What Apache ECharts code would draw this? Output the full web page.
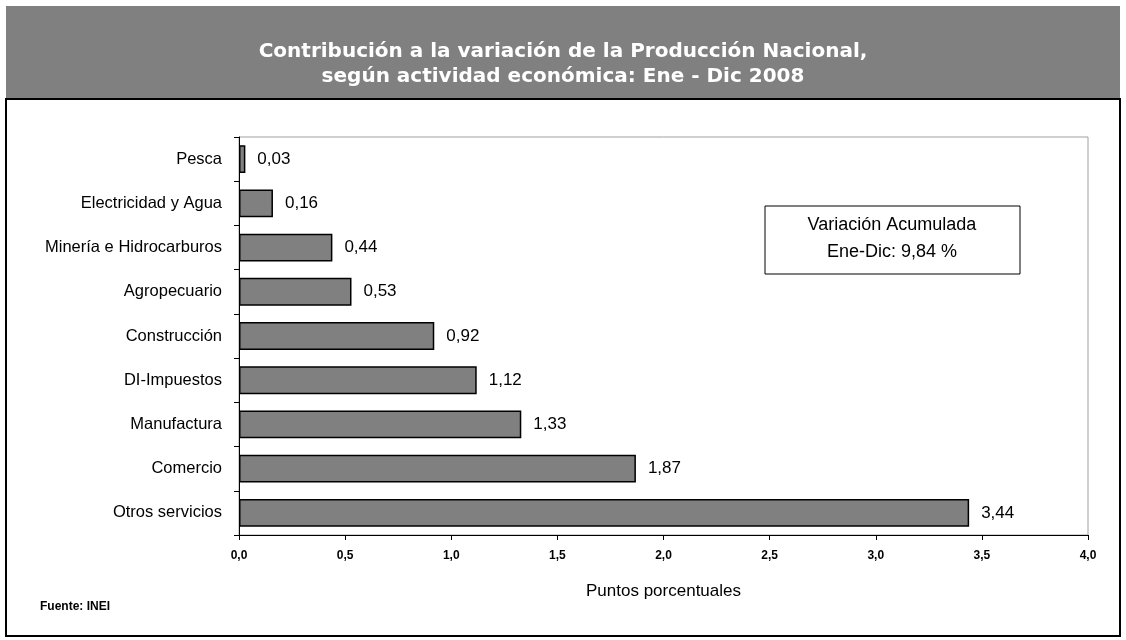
<!DOCTYPE html>
<html><head><meta charset="utf-8">
<script src="https://cdn.jsdelivr.net/npm/echarts@6/dist/echarts.min.js"></script>
<style>html,body{margin:0;padding:0;background:#fff}#c{width:1126px;height:640px}</style>
</head><body><div id="c"></div>
<script>
const categories = ["Pesca","Electricidad y Agua","Minería e Hidrocarburos","Agropecuario","Construcción","DI-Impuestos","Manufactura","Comercio","Otros servicios"];
const values = [0.03,0.16,0.44,0.53,0.92,1.12,1.33,1.87,3.44];
const titleLines = ["Contribución a la variación de la Producción Nacional,","según actividad económica: Ene - Dic 2008"];
const noteLines = ["Variación Acumulada","Ene-Dic: 9,84 %"];
const xAxisName = "Puntos porcentuales";
const sourceText = "Fuente: INEI";

const sans = "'Liberation Sans',Arial,sans-serif";
const chart = echarts.init(document.getElementById('c'));
chart.setOption({
  animation:false,
  backgroundColor:'#fff',
  title:{text:titleLines.join('\n'),left:'center',top:34,
    textStyle:{color:'#fff',fontFamily:"'DejaVu Sans',sans-serif",fontWeight:'bold',fontSize:20,lineHeight:25}},
  graphic:[
    {type:'rect',z:-1,shape:{x:6,y:6,width:1114,height:93},style:{fill:'#808080'}},
    {type:'rect',z:-1,shape:{x:6,y:99,width:1114,height:537},style:{fill:'none',stroke:'#000',lineWidth:2}},
    {type:'rect',shape:{x:765,y:206,width:255,height:68},style:{fill:'#fff',stroke:'#000',lineWidth:1}},
    {type:'text',style:{x:892,y:225,text:noteLines[0],textAlign:'center',textVerticalAlign:'middle',font:"18px "+sans,fill:'#000'}},
    {type:'text',style:{x:892,y:252,text:noteLines[1],textAlign:'center',textVerticalAlign:'middle',font:"18px "+sans,fill:'#000'}},
    {type:'text',style:{x:40,y:607,text:sourceText,textVerticalAlign:'middle',font:"bold 12px "+sans,fill:'#000'}}
  ],
  grid:{left:239,right:38,top:137,bottom:105,show:true,borderColor:'#a0a0a0',borderWidth:1,backgroundColor:'transparent'},
  xAxis:{type:'value',min:0,max:4,interval:0.5,
    name:xAxisName,nameLocation:'middle',nameGap:48,
    nameTextStyle:{fontFamily:sans,fontSize:17,color:'#000'},
    axisLine:{show:true,lineStyle:{color:'#000',width:1}},
    axisTick:{show:true,length:5,lineStyle:{color:'#000'}},
    splitLine:{show:false},
    axisLabel:{margin:15,fontFamily:sans,fontWeight:'bold',fontSize:12,color:'#000',
      formatter:v=>v.toFixed(1).replace('.',',')}},
  yAxis:{type:'category',data:categories,inverse:true,
    axisLine:{show:true,lineStyle:{color:'#000',width:1}},
    axisTick:{show:true,length:5,lineStyle:{color:'#000'}},
    axisLabel:{margin:17,fontFamily:sans,fontSize:16.5,color:'#000'}},
  series:[{type:'bar',data:values,barCategoryGap:'37%',
    itemStyle:{color:'#808080',borderColor:'#000',borderWidth:1.5},
    label:{show:true,position:'right',distance:12,fontFamily:sans,fontSize:17,color:'#000',
      formatter:p=>p.value.toFixed(2).replace('.',',')}}]
});
</script></body></html>
